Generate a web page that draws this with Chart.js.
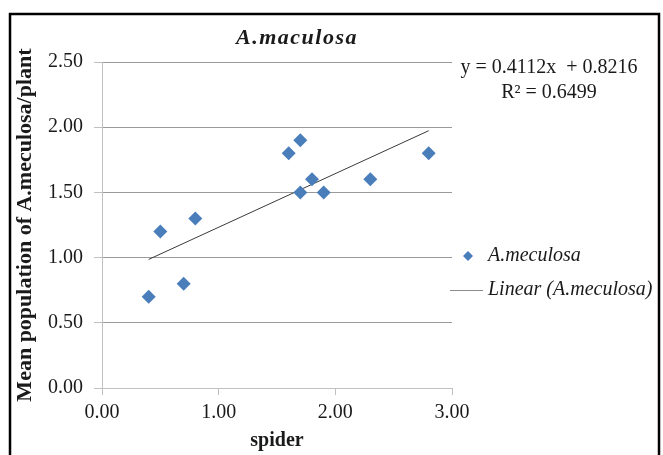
<!DOCTYPE html>
<html>
<head>
<meta charset="utf-8">
<script src="https://cdn.jsdelivr.net/npm/chart.js@4"></script>
<style>
  body { margin: 0; background: #fff; }
  canvas { display: block; }
</style>
</head>
<body>
<canvas id="chart" width="663" height="455"></canvas>
<script>
// data
const spider = [0.4, 0.5, 0.7, 0.8, 1.6, 1.7, 1.7, 1.8, 1.9, 2.3, 2.8];
const meculosa = [0.7, 1.2, 0.8, 1.3, 1.8, 1.9, 1.5, 1.6, 1.5, 1.6, 1.8];

// trendline as printed on the chart
const slope = 0.4112;
const intercept = 0.8216;
const rSquared = 0.6499;

const chartTitle = 'A.maculosa';
const seriesName = 'A.meculosa';
const trendName = 'Linear (A.meculosa)';

const FONT = '"Liberation Serif", "Times New Roman", serif';
const TEXT = '#1a1a1a';

const points = spider.map((x, i) => ({ x: x, y: meculosa[i] }));
const xMin = Math.min(...spider);
const xMax = Math.max(...spider);
const trend = [
    { x: xMin, y: slope * xMin + intercept },
    { x: xMax, y: slope * xMax + intercept }
];

// border, title, equation and legend drawn on the canvas
const decorations = {
    id: 'decorations',
    afterDraw(chart) {
        const ctx = chart.ctx;
        ctx.save();
        ctx.strokeStyle = '#000';
        ctx.lineWidth = 2.5;
        ctx.strokeRect(10, 14, 649, 460);

        ctx.fillStyle = TEXT;
        ctx.textBaseline = 'middle';
        ctx.textAlign = 'center';
        ctx.font = 'italic bold 22px ' + FONT;
        ctx.letterSpacing = '1.5px';
        ctx.fillText(chartTitle, 297, 38);
        ctx.letterSpacing = '0px';

        ctx.font = '20px ' + FONT;
        ctx.fillText('y = 0.' + slope.toFixed(4).split('.')[1] + 'x  + ' + intercept.toFixed(4), 549, 68);
        ctx.fillText('R\u00b2 = ' + rSquared.toFixed(4), 549, 93);

        // legend
        const ds0 = chart.data.datasets[0];
        const ds1 = chart.data.datasets[1];
        ctx.fillStyle = ds0.backgroundColor;
        ctx.beginPath();
        ctx.moveTo(468, 251);
        ctx.lineTo(473, 256);
        ctx.lineTo(468, 261);
        ctx.lineTo(463, 256);
        ctx.closePath();
        ctx.fill();
        ctx.strokeStyle = '#8c8c8c';
        ctx.lineWidth = 1;
        ctx.beginPath();
        ctx.moveTo(450, 290.5);
        ctx.lineTo(483, 290.5);
        ctx.stroke();

        ctx.fillStyle = TEXT;
        ctx.textAlign = 'left';
        ctx.font = 'italic 20px ' + FONT;
        ctx.fillText(ds0.label, 488, 256);
        ctx.fillText(ds1.label, 488, 290);
        ctx.restore();
    }
};

new Chart(document.getElementById('chart'), {
    type: 'scatter',
    data: {
        datasets: [{
            label: seriesName,
            data: points,
            pointStyle: 'rectRot',
            pointRadius: 7,
            pointHoverRadius: 7,
            backgroundColor: '#4a7ebb',
            borderColor: '#4a7ebb',
            borderWidth: 0
        }, {
            label: trendName,
            data: trend,
            showLine: true,
            pointRadius: 0,
            borderColor: '#3a3a3a',
            borderWidth: 1,
            backgroundColor: '#3a3a3a'
        }]
    },
    options: {
        responsive: false,
        animation: false,
        layout: { padding: { left: 12, right: 211, top: 62, bottom: 0 } },
        plugins: {
            legend: { display: false },
            title: { display: false },
            tooltip: { enabled: false }
        },
        scales: {
            x: {
                type: 'linear',
                min: 0,
                max: 3,
                afterFit(scale) { scale.height = 67; },
                ticks: {
                    stepSize: 1,
                    color: TEXT,
                    padding: 6,
                    font: { family: FONT, size: 20 },
                    callback: v => v.toFixed(2)
                },
                grid: {
                    drawOnChartArea: false,
                    tickLength: 7,
                    tickColor: '#c0c0c0'
                },
                border: { color: '#c0c0c0', width: 1 },
                title: {
                    display: true,
                    text: 'spider',
                    color: TEXT,
                    font: { family: FONT, size: 20, weight: 'bold' },
                    padding: { top: 0, bottom: 2 }
                }
            },
            y: {
                min: 0,
                max: 2.5,
                afterFit(scale) { scale.width = 90; },
                ticks: {
                    stepSize: 0.5,
                    color: TEXT,
                    padding: 11,
                    font: { family: FONT, size: 20 },
                    callback: v => v.toFixed(2)
                },
                grid: {
                    color: '#9a9a9a',
                    tickLength: 8,
                    tickColor: '#c0c0c0'
                },
                border: { color: '#c0c0c0', width: 1 },
                title: {
                    display: true,
                    text: 'Mean population of A.meculosa/plant',
                    color: TEXT,
                    font: { family: FONT, size: 22, weight: 'bold' },
                    padding: { top: 0, bottom: 0 }
                }
            }
        }
    },
    plugins: [decorations]
});
</script>
</body>
</html>
